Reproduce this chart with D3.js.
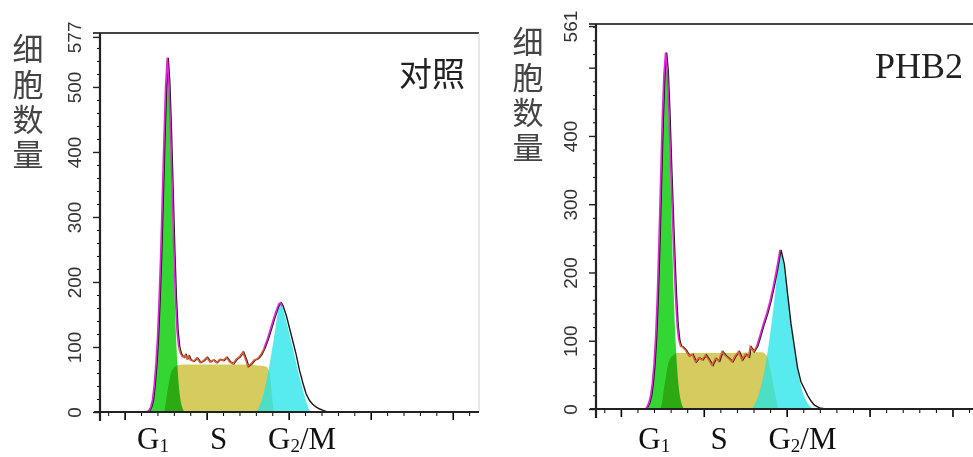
<!DOCTYPE html>
<html>
<head>
<meta charset="utf-8">
<script src="https://cdn.jsdelivr.net/npm/d3@7"></script>
<style>
  body { margin: 0; background: #fff; }
  svg { display: block; }
</style>
</head>
<body>
<svg id="chart" width="973" height="457"></svg>
<script>
// [channel, count] pairs

// control
const ctrlHist = [[13,0],[14,1],[15,3],[16,8],[17,18],[18,40],[19,70],[20,110],[21,170],[22,240],[23,330],[24,420],
    [25,500],[26,545],[27,505],[28,430],[29,340],[30,250],[31,175],[32,125],[33,100],[34,90],[35,86],[36,84],[37,88],
    [38,82],[39,86],[40,80],[42,78],[44,83],[46,76],[48,79],[50,84],[52,77],[54,80],[56,76],[58,81],[60,79],[62,84],
    [64,77],[66,74],[68,81],[70,85],[72,92],[74,79],[75,70],[77,74],[79,80],[81,82],[83,88],[85,98],[87,112],[89,128],
    [91,145],[93,160],[94,166],[95,168],[96,163],[98,148],[100,128],[102,108],[104,88],[106,64],[108,45],[110,28],
    [112,18],[114,12],[116,8],[118,5],[120,3],[123,0]];
const ctrlG1 = [[15,0],[16,4],[17,10],[18,25],[19,50],[20,90],[21,145],[22,220],[23,310],[24,400],[25,480],[26,530],
    [27,488],[28,410],[29,315],[30,220],[31,140],[32,80],[33,42],[34,20],[35,8],[36,2],[37,0]];
const ctrlS = [[24,0],[25,12],[26,30],[27,45],[28,58],[30,68],[32,72],[36,73],[50,73],[60,73],[70,73],[80,72],
    [86,70],[88,64],[89,48],[90,20],[91,0]];
const ctrlG2 = [[80,0],[82,8],[84,22],[86,42],[88,68],[90,98],[92,130],[94,162],[95,168],[96,163],[98,145],[100,125],
    [102,104],[104,82],[106,60],[108,40],[110,22],[112,6],[113,0]];

// PHB2
const phbHist = [[15,0],[16,4],[17,10],[18,20],[19,38],[20,65],[21,105],[22,165],[23,245],[24,335],[25,425],[26,490],
    [27,522],[28,495],[29,435],[30,360],[31,290],[32,225],[33,165],[34,122],[35,100],[36,92],[37,91],[39,86],[41,78],
    [43,80],[45,69],[47,75],[49,72],[51,79],[53,72],[55,64],[57,74],[59,70],[61,84],[63,78],[65,74],[67,69],[69,78],
    [71,84],[73,72],[75,80],[77,76],[78,91],[80,84],[82,92],[84,108],[86,125],[88,140],[90,158],[92,180],[94,205],
    [96,233],[98,212],[100,168],[102,125],[104,92],[106,60],[108,40],[110,30],[112,20],[114,12],[116,6],[118,3],
    [120,1],[123,0]];
const phbG1 = [[16,0],[17,4],[18,12],[19,28],[20,52],[21,90],[22,148],[23,228],[24,318],[25,410],[26,478],[27,512],
    [28,482],[29,415],[30,330],[31,240],[32,160],[33,100],[34,58],[35,30],[36,14],[37,5],[38,0]];
const phbS = [[24,0],[25,12],[26,30],[27,45],[28,60],[30,75],[32,80],[34,82],[50,82],[60,82],[70,82],[80,83],
    [85,83],[88,78],[90,60],[92,35],[94,10],[95,0]];
const phbG2 = [[79,0],[81,8],[83,20],[85,38],[87,62],[89,92],[91,128],[93,168],[95,215],[96,233],[97,226],[99,200],
    [101,158],[103,118],[105,82],[107,52],[109,30],[111,16],[113,7],[115,2],[116,0]];

// axes
const chanDomain = [-15, 216];
const xMajor = [0, 50, 100, 150, 200];
const ctrlYTicks = [0, 100, 200, 300, 400, 500, 577];
const phbYTicks = [0, 100, 200, 300, 400, 500, 561];
const phaseNames = [['G', '1', ''], ['S', '', ''], ['G', '2', '/M']];
const ctrlPhaseAt = [17.3, 57.3, 108.2];
const phbPhaseAt = [20.1, 59.2, 109.5];
const yTitle = '细胞数量';

const svg = d3.select('#chart');

const panels = [
    {hist: ctrlHist, g1: ctrlG1, s: ctrlS, g2: ctrlG2, yTicks: ctrlYTicks, yTop: 583, noLabel: [],
     phaseAt: ctrlPhaseAt, left: 100, right: 479, top: 33, bottom: 412, ylabX: 28, ylabY: 33,
     title: '对照', titleFont: '"Noto Sans CJK SC", sans-serif', titleSize: 33, titleX: 465, titleY: 86,
     fit: [[13, 33], [85, 97]], sfit: [33, 85]},
    {hist: phbHist, g1: phbG1, s: phbS, g2: phbG2, yTicks: phbYTicks, yTop: 564, noLabel: [500],
     phaseAt: phbPhaseAt, left: 596, right: 979, top: 24, bottom: 409, ylabX: 528, ylabY: 26,
     title: 'PHB2', titleFont: '"Liberation Serif", "Times New Roman", serif', titleSize: 36, titleX: 963, titleY: 78,
     fit: [[15, 35], [82, 97]], sfit: [35, 82]}
];

panels.forEach(drawPanel);

function drawPanel(p) {
    let x = d3.scaleLinear().domain(chanDomain).range([p.left, p.right]);
    let y = d3.scaleLinear().domain([0, p.yTop]).range([p.bottom, p.top]);
    let g = svg.append('g');

    let area = d3.area()
        .x(d => x(d[0])).y0(y(0)).y1(d => y(d[1]))
        .curve(d3.curveMonotoneX);
    let line = d3.line().x(d => x(d[0])).y(d => y(d[1]));

    // fitted components
    g.append('path').datum(p.s).attr('d', area).attr('fill', '#d6cb5e');
    g.append('path').datum(p.g1).attr('d', area).attr('fill', '#34d634')
        .style('mix-blend-mode', 'multiply');
    g.append('path').datum(p.g2).attr('d', area).attr('fill', '#1fe4ea').attr('fill-opacity', 0.75);

    // measured histogram, with the fit colours laid over it
    g.append('path').datum(p.hist).attr('d', line)
        .attr('fill', 'none').attr('stroke', '#1a1a1a').attr('stroke-width', 1.4)
        .attr('transform', 'translate(1,0)');
    let inRange = r => p.hist.filter(d => d[0] >= r[0] && d[0] <= r[1]);
    p.fit.forEach(r => g.append('path').datum(inRange(r)).attr('d', line)
        .attr('fill', 'none').attr('stroke', '#e024d8').attr('stroke-width', 1.7));
    g.append('path').datum(inRange(p.sfit)).attr('d', line)
        .attr('fill', 'none').attr('stroke', '#e0603c').attr('stroke-width', 1.6);

    // y axis ticks
    let yMinor = d3.range(20, p.yTicks[p.yTicks.length - 1], 20).filter(v => v % 100);
    g.append('g').attr('transform', `translate(${p.left},0)`)
        .call(d3.axisLeft(y).tickValues(yMinor).tickSize(3).tickSizeOuter(0).tickFormat(''))
        .call(a => a.select('.domain').remove());
    let ya = g.append('g').attr('transform', `translate(${p.left},0)`)
        .call(d3.axisLeft(y).tickValues(p.yTicks).tickSize(7).tickSizeOuter(0)
            .tickFormat(d => p.noLabel.includes(d) ? '' : d));
    ya.select('.domain').remove();
    ya.selectAll('line').attr('stroke', '#222').attr('stroke-width', 1.4);
    ya.selectAll('text')
        .attr('transform', 'rotate(-90)')
        .attr('x', 0).attr('y', -19).attr('dy', null)
        .attr('text-anchor', 'middle')
        .attr('fill', '#333')
        .style('font-family', '"Liberation Sans", Arial, sans-serif')
        .style('font-size', '19px');

    // x axis ticks
    let xMinor = d3.range(-10, chanDomain[1], 10).filter(v => !xMajor.includes(v));
    g.append('g').attr('transform', `translate(0,${p.bottom})`)
        .call(d3.axisBottom(x).tickValues(xMinor).tickSize(4).tickFormat(''))
        .call(a => a.select('.domain').remove());
    g.append('g').attr('transform', `translate(0,${p.bottom})`)
        .call(d3.axisBottom(x).tickValues(xMajor).tickSize(8).tickFormat(''))
        .call(a => a.select('.domain').remove())
        .call(a => a.selectAll('line').attr('stroke-width', 1.6));

    // frame
    g.append('line').attr('x1', p.left - 7).attr('x2', p.right).attr('y1', p.top).attr('y2', p.top)
        .attr('stroke', '#444').attr('stroke-width', 2);
    g.append('line').attr('x1', p.right).attr('x2', p.right).attr('y1', p.top).attr('y2', p.bottom)
        .attr('stroke', '#d0d0d0').attr('stroke-width', 1);
    g.append('line').attr('x1', p.left - 6).attr('x2', p.right).attr('y1', p.bottom).attr('y2', p.bottom)
        .attr('stroke', '#222').attr('stroke-width', 2.2);
    g.append('line').attr('x1', p.left).attr('x2', p.left).attr('y1', p.top).attr('y2', p.bottom + 9)
        .attr('stroke', '#222').attr('stroke-width', 2.2);

    // phase labels
    phaseNames.forEach((nm, i) => {
        let t = g.append('text')
            .attr('x', x(p.phaseAt[i])).attr('y', 449)
            .attr('text-anchor', 'middle')
            .attr('fill', '#111')
            .style('font-family', '"Liberation Serif", "Times New Roman", serif')
            .style('font-size', '31px');
        t.append('tspan').text(nm[0]);
        if (nm[1]) t.append('tspan').attr('dy', 3).style('font-size', '19px').text(nm[1]);
        if (nm[2]) t.append('tspan').attr('dy', -3).text(nm[2]);
    });

    // y title, set vertically
    g.append('text')
        .attr('x', p.ylabX).attr('y', p.ylabY)
        .attr('fill', '#444')
        .style('writing-mode', 'vertical-rl')
        .style('text-orientation', 'upright')
        .style('letter-spacing', '4.3px')
        .style('font-family', '"Noto Sans CJK SC", sans-serif')
        .style('font-size', '31px')
        .text(yTitle);

    g.append('text')
        .attr('x', p.titleX).attr('y', p.titleY)
        .attr('text-anchor', 'end')
        .attr('fill', '#222')
        .style('font-family', p.titleFont)
        .style('font-size', p.titleSize + 'px')
        .text(p.title);
}
</script>
</body>
</html>
